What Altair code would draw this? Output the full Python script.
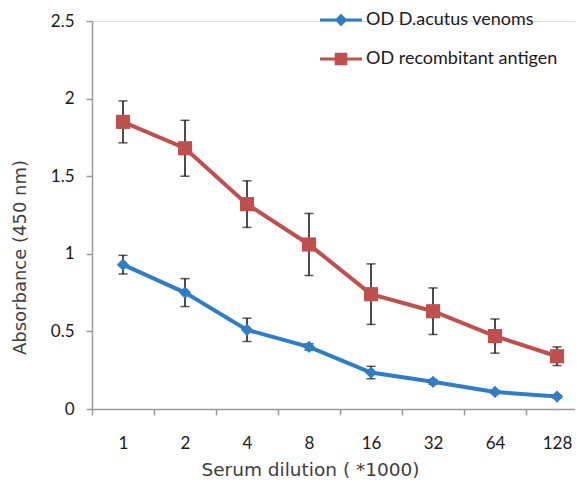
import altair as alt
import pandas as pd

dilutions = ["1", "2", "4", "8", "16", "32", "64", "128"]
venom_mean = [0.93, 0.75, 0.51, 0.40, 0.235, 0.175, 0.11, 0.08]
venom_err = [0.06, 0.09, 0.075, 0.02, 0.04, 0.015, 0.01, 0.01]
antigen_mean = [1.85, 1.68, 1.32, 1.06, 0.74, 0.63, 0.47, 0.34]
antigen_err = [0.135, 0.18, 0.15, 0.20, 0.195, 0.15, 0.11, 0.06]
series_names = ["OD D.acutus venoms", "OD recombitant antigen"]
series_colors = ["#2E7EC7", "#C0504D"]

rows = []
for i, d in enumerate(dilutions):
    rows.append({"dil": d, "series": series_names[0], "v": venom_mean[i],
                 "lo": venom_mean[i] - venom_err[i], "hi": venom_mean[i] + venom_err[i]})
    rows.append({"dil": d, "series": series_names[1], "v": antigen_mean[i],
                 "lo": antigen_mean[i] - antigen_err[i], "hi": antigen_mean[i] + antigen_err[i]})
df = pd.DataFrame(rows)

xscale = alt.Scale(type="band", paddingInner=0, paddingOuter=0, range=[0, 496], domain=dilutions)
xenc = alt.X("dil:N", scale=xscale, sort=dilutions,
             axis=alt.Axis(title="Serum dilution ( *1000)", labelAngle=0, tickBand="extent",
                           labelFont="Lato", labelFontSize=17, labelColor="#1a1a1a",
                           labelPadding=20, tickSize=6, tickColor="#9a9a9a", domainColor="#9a9a9a",
                           domainWidth=1.5, tickWidth=1.5,
                           titleFont="DejaVu Sans", titleFontSize=18.5, titleFontWeight="normal",
                           titleColor="#404040", titleX=218, titleY=60, titleBaseline="middle"))
yenc = alt.Y("v:Q", scale=alt.Scale(domain=[0, 2.5], nice=False),
             axis=alt.Axis(title="Absorbance (450 nm)", values=[0, 0.5, 1, 1.5, 2, 2.5], format=".1~f",
                           grid=False, labelFont="Lato", labelFontSize=17, labelColor="#1a1a1a",
                           labelPadding=12, tickSize=6, tickColor="#9a9a9a", domainColor="#9a9a9a",
                           domainWidth=1.5, tickWidth=1.5,
                           titleFont="DejaVu Sans", titleFontSize=18, titleFontWeight="normal",
                           titleColor="#404040", titleX=-72, titleY=236, titleBaseline="middle"))

base = alt.Chart(df)
layers = []
shapes = ["diamond", "square"]
sizes = [150, 200]
for name, col, shp, sz in zip(series_names, series_colors, shapes, sizes):
    sub = base.transform_filter(alt.datum.series == name)
    rule = sub.mark_rule(color="#111111", strokeWidth=1.5).encode(x=xenc, y="lo:Q", y2="hi:Q")
    cap_lo = sub.mark_tick(color="#111111", thickness=1.5, size=9).encode(x=xenc, y="lo:Q")
    cap_hi = sub.mark_tick(color="#111111", thickness=1.5, size=9).encode(x=xenc, y="hi:Q")
    line = sub.mark_line(color=col, strokeWidth=4).encode(x=xenc, y=yenc)
    pts = sub.mark_point(color=col, filled=True, opacity=1, shape=shp, size=sz).encode(x=xenc, y=yenc)
    layers += [rule, cap_lo, cap_hi, line, pts]

legend_paths = [
    "M-1,-0.07H1V0.07H-1Z M0,-0.3L0.3,0L0,0.3L-0.3,0Z",
    "M-1,-0.07H1V0.07H-1Z M-0.3,-0.3H0.3V0.3H-0.3Z",
]
legend_layer = base.transform_filter("false").mark_point(filled=True, opacity=1, size=1764).encode(
    x=xenc, y=yenc,
    color=alt.Color("series:N", scale=alt.Scale(domain=series_names, range=series_colors), title=None,
                    legend=alt.Legend(orient="none", legendX=228, legendY=-22, symbolSize=1764,
                                      labelFont="Lato", labelFontSize=18, labelColor="#1a1a1a",
                                      labelLimit=400, rowPadding=9, symbolStrokeWidth=0,
                                      labelOffset=4)),
    shape=alt.Shape("series:N", scale=alt.Scale(domain=series_names, range=legend_paths), title=None),
)
layers.append(legend_layer)

chart = alt.layer(*layers).properties(
    width=483, height=388,
    autosize=alt.AutoSizeParams(type="none"),
    padding={"left": 84, "top": 13, "right": 0, "bottom": 72},
).configure_view(stroke=None).configure(background="white")

chart.save("out.html", embed_options={"renderer": "svg", "actions": False})
